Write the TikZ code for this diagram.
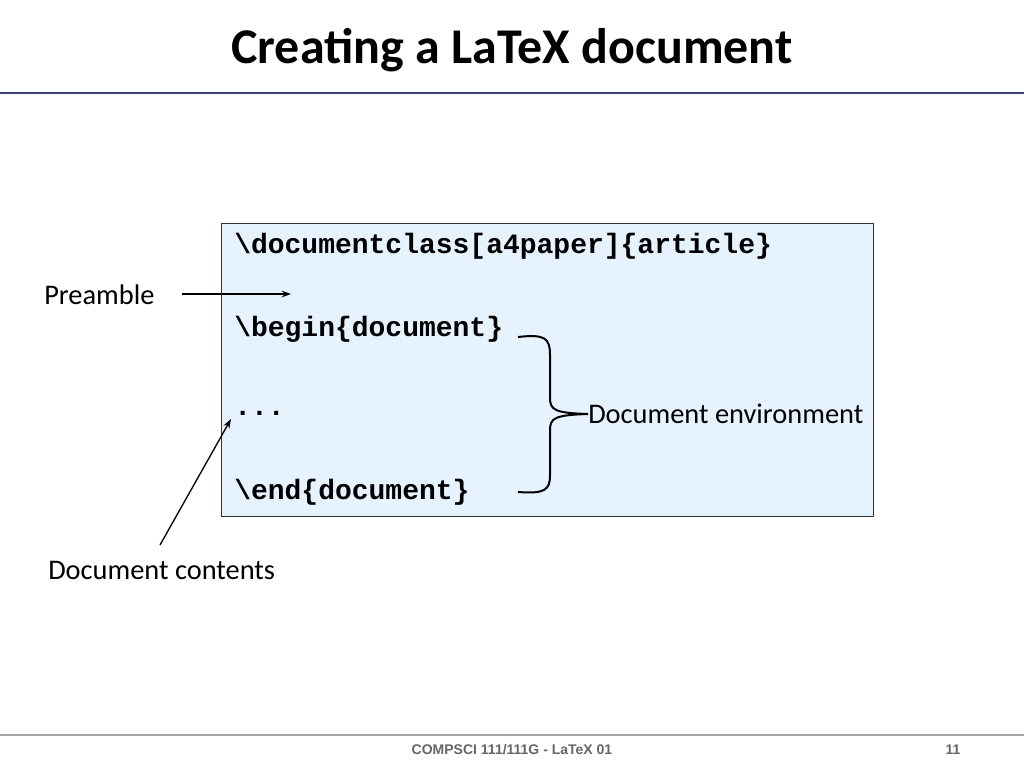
\documentclass[tikz,border=0pt]{standalone}
\usepackage{fontspec}
\usetikzlibrary{arrows.meta}
\setmainfont{Carlito}
\newfontfamily\codefont{Liberation Mono}
\newfontfamily\footfont{Liberation Sans}
\definecolor{boxfill}{RGB}{230,243,255}
\definecolor{titleline}{RGB}{60,60,120}
\begin{document}
\begin{tikzpicture}[x=0.75pt,y=-0.75pt,
  code/.style={anchor=west,inner sep=0pt,font=\codefont\bfseries\fontsize{21}{24}\selectfont},
  lbl/.style={anchor=west,inner sep=0pt,font=\fontsize{21.3}{24}\selectfont},
  arr/.style={-{Stealth[length=7pt,width=5pt]},line width=1pt}]
\useasboundingbox (0,0) rectangle (1024,768);
\node[font=\bfseries\fontsize{37.5}{42}\selectfont] (title) at (512,50) {Creating a LaTeX document};
\draw[titleline,line width=1pt] (0,93) -- (1024,93);
\draw[gray!70,line width=1pt] (0,735) -- (1024,735);
\node[gray!80!black,font=\footfont\bfseries\fontsize{10.5}{12}\selectfont] (foot) at (512,750) {COMPSCI 111/111G - LaTeX 01};
\node[gray!80!black,font=\footfont\bfseries\fontsize{10.5}{12}\selectfont] (num) at (953,750) {11};
\node[draw=black!80,fill=boxfill,line width=0.8pt,minimum width=652*0.75pt,minimum height=293*0.75pt,anchor=north west,inner sep=0pt] (box) at (221,223) {};
\node[code] (dc) at (234,246) {\textbackslash documentclass[a4paper]\{article\}};
\node[code] (bd) at (234,329) {\textbackslash begin\{document\}};
\node[code] (dots) at (234,413) {...};
\node[code] (ed) at (234,492) {\textbackslash end\{document\}};
\node[lbl] (pre) at (44,295) {Preamble};
\coordinate (prestart) at (182,294);
\coordinate (pretip) at (291,294);
\draw[arr] (prestart) -- (pretip);
\node[lbl] (env) at (588,414) {Document environment};
\node[lbl] (cont) at (48,570) {Document contents};
\coordinate (conttail) at (160,545);
\coordinate (conttip) at (231,419);
\draw[arr] (conttail) -- (conttip);
\draw[line width=1.5pt] (518,337) .. controls (545,334) and (550,338) .. (550,355)
  -- (550,398) .. controls (550,410) and (555,413) .. (env.west)
  .. controls (555,415) and (550,418) .. (550,430)
  -- (550,475) .. controls (550,490) and (545,494) .. (518,492);
\end{tikzpicture}
\end{document}
